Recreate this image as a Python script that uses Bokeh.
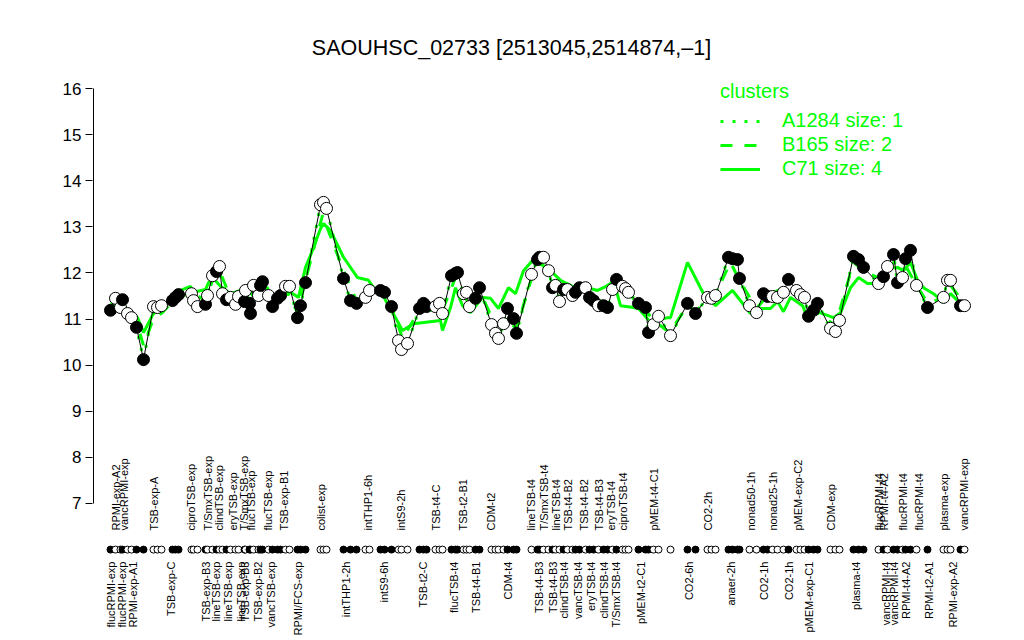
import math
from bokeh.plotting import figure
from bokeh.models import ColumnDataSource, Range1d, FixedTicker, Legend, LegendItem
from bokeh.core.properties import value
from bokeh.embed import file_html
from bokeh.resources import INLINE

FONT = "Liberation Sans"
GREEN = "#00ff00"

title_text = "SAOUHSC_02733 [2513045,2514874,\u20131]"

# sample positions along the x axis (arbitrary position units), expression values, filled marker flag
pos = [17, 22, 27, 29, 34, 38, 43, 50, 60, 64, 68, 79, 82, 85, 98, 100, 104, 112, 114, 119,
       123, 126, 129, 133, 137, 142, 145, 151, 152, 156, 157, 160, 165, 167, 169, 175, 179, 184, 187, 192,
       196, 204, 207, 212, 227, 230, 233, 250, 257, 263, 272, 276, 287, 291, 298, 305, 308, 314, 326, 330,
       333, 342, 346, 349, 358, 362, 364, 370, 373, 376, 382, 386, 398, 402, 405, 410, 414, 420, 423, 438,
       444, 446, 450, 455, 459, 462, 466, 470, 474, 479, 482, 486, 492, 496, 500, 505, 510, 514, 519, 523,
       529, 532, 535, 545, 552, 555, 560, 565, 577, 594, 602, 614, 618, 622, 635, 639, 644, 646, 656, 663,
       670, 674, 679, 684, 690, 695, 703, 707, 711, 715, 720, 724, 737, 742, 746, 760, 765, 770, 785, 790,
       794, 800, 804, 809, 812, 817, 823, 834, 850, 854, 857, 867, 871]
expr = [11.19, 11.45, 11.25, 11.42, 11.12, 11.03, 10.82, 10.12, 11.27, 11.25, 11.29, 11.40, 11.47, 11.53, 11.55, 11.40, 11.27, 11.32, 11.51, 11.94,
        12.03, 12.14, 11.55, 11.42, 11.47, 11.32, 11.49, 11.38, 11.62, 11.34, 11.12, 11.73, 11.51, 11.73, 11.81, 11.51, 11.27, 11.45, 11.51, 11.71,
        11.71, 11.03, 11.29, 11.79, 13.48, 13.53, 13.40, 11.88, 11.40, 11.34, 11.47, 11.62, 11.62, 11.58, 11.27, 10.53, 10.34, 10.47, 11.23, 11.34,
        11.27, 11.27, 11.34, 11.12, 11.94, 11.99, 12.01, 11.55, 11.58, 11.27, 11.45, 11.68, 10.88, 10.69, 10.58, 10.90, 11.23, 11.01, 10.69, 11.97,
        12.29, 12.34, 12.34, 12.05, 11.68, 11.73, 11.38, 11.64, 11.64, 11.51, 11.58, 11.68, 11.68, 11.47, 11.40, 11.29, 11.29, 11.25, 11.64, 11.86,
        11.71, 11.66, 11.58, 11.34, 11.25, 10.71, 10.88, 11.06, 10.64, 11.34, 11.12, 11.47, 11.45, 11.51, 12.34, 12.31, 12.29, 11.88, 11.29, 11.14,
        11.55, 11.49, 11.49, 11.47, 11.58, 11.86, 11.62, 11.53, 11.47, 11.06, 11.19, 11.34, 10.80, 10.73, 10.97, 12.36, 12.29, 12.12, 11.77, 11.92,
        12.14, 12.40, 11.79, 11.90, 12.31, 12.49, 11.73, 11.25, 11.47, 11.84, 11.84, 11.29, 11.29]
filled = [1, 0, 0, 1, 0, 0, 1, 1, 0, 0, 0, 1, 1, 1, 0, 0, 0, 1, 0, 0,
          1, 0, 0, 1, 0, 0, 0, 1, 0, 1, 1, 0, 0, 1, 1, 0, 1, 1, 1, 0,
          0, 1, 1, 1, 0, 0, 0, 1, 1, 1, 0, 0, 1, 1, 1, 0, 0, 0, 1, 1,
          1, 0, 0, 0, 1, 1, 1, 0, 0, 0, 1, 1, 0, 0, 0, 0, 1, 1, 1, 0,
          1, 1, 0, 0, 1, 0, 0, 1, 0, 0, 1, 1, 0, 1, 1, 0, 1, 1, 0, 1,
          0, 0, 0, 1, 1, 1, 0, 0, 0, 1, 1, 0, 0, 0, 1, 1, 1, 1, 0, 0,
          1, 1, 0, 0, 0, 1, 0, 0, 0, 1, 1, 1, 0, 0, 0, 1, 1, 1, 0, 1,
          0, 1, 1, 0, 1, 1, 0, 1, 0, 0, 0, 1, 0]

# cluster C71 (solid) profile
c71_pos = [17, 30, 44, 50, 60, 69, 77, 87, 97, 100, 112, 115, 120, 127, 137, 147, 157, 164, 174, 179,
           187, 197, 205, 212, 217, 227, 230, 237, 250, 264, 275, 280, 287, 295, 297, 309, 320, 347, 349, 357,
           362, 369, 377, 389, 397, 405, 415, 422, 430, 439, 450, 459, 467, 479, 494, 504, 510, 517, 520, 527,
           540, 545, 557, 574, 577, 594, 610, 622, 639, 657, 665, 677, 684, 690, 697, 709, 712, 720, 740, 747,
           757, 765, 774, 784, 794, 804, 810, 817, 824, 830, 840, 850, 857, 867, 870]
c71 = [11.34, 11.29, 11.03, 10.71, 11.12, 11.23, 11.45, 11.62, 11.71, 11.58, 11.64, 11.79, 11.88, 11.71, 11.55, 11.62, 11.55, 11.66, 11.68, 11.19,
       11.45, 11.58, 11.47, 12.12, 12.38, 12.96, 13.07, 12.92, 12.34, 11.90, 11.84, 11.68, 11.62, 11.29, 11.23, 10.75, 10.90, 10.97, 10.75, 11.25,
       11.68, 11.29, 11.14, 11.47, 11.45, 11.23, 11.68, 11.55, 12.05, 12.27, 12.16, 12.01, 11.84, 11.71, 11.68, 11.62, 11.68, 11.77, 11.84, 11.29,
       11.25, 11.23, 10.93, 11.03, 11.03, 12.23, 11.55, 11.29, 11.62, 11.12, 11.23, 11.23, 11.38, 11.16, 11.47, 11.29, 11.14, 11.19, 11.03, 11.14,
       11.68, 11.90, 11.77, 11.77, 12.10, 12.12, 12.05, 12.23, 11.84, 11.68, 11.55, 11.36, 11.55, 11.34, 11.27]

# cluster B165 (dashed) profile
b165_pos = [17, 30, 44, 50, 60, 69, 82, 99, 112, 120, 126, 137, 152, 160, 169, 179, 192, 204, 212, 229,
            250, 263, 276, 290, 298, 309, 326, 349, 362, 376, 386, 402, 410, 423, 438, 448, 459, 474, 486, 500,
            514, 523, 535, 552, 560, 576, 594, 602, 620, 637, 646, 663, 674, 695, 711, 720, 742, 760, 770, 790,
            800, 812, 823, 834, 850, 857, 871]
b165 = [11.29, 11.34, 10.86, 10.43, 11.01, 11.14, 11.45, 11.58, 11.40, 11.90, 12.05, 11.47, 11.45, 11.66, 11.73, 11.34, 11.66, 11.14, 11.84, 13.25,
        12.05, 11.40, 11.58, 11.58, 11.29, 10.58, 11.19, 11.19, 11.90, 11.29, 11.62, 10.86, 11.01, 10.80, 11.88, 12.23, 11.77, 11.62, 11.62, 11.45,
        11.34, 11.77, 11.55, 11.19, 10.97, 10.71, 11.29, 11.19, 11.45, 12.23, 11.84, 11.23, 11.51, 11.73, 11.47, 11.19, 10.86, 12.23, 12.05, 11.84,
        12.23, 12.16, 11.73, 11.36, 11.45, 11.73, 11.34]

# tick labels: upper row and lower row
upper_pos = [22, 30, 60, 97, 114, 125, 139, 150, 157, 174, 190, 227, 274, 307, 342, 369, 397, 437, 450, 462,
             474, 490, 505, 517, 529, 560, 614, 657, 679, 704, 737, 785, 790, 809, 825, 850, 870]
upper_lab = ["RPMI-exp-A2", "vancRPMI-exp", "TSB-exp-A", "ciproTSB-exp", "T/SmxTSB-exp", "clindTSB-exp",
             "eryTSB-exp", "T/SmxTSB-exp", "flucTSB-exp", "flucTSB-exp", "TSB-exp-B1", "colist-exp",
             "intTHP1-6h", "intS9-2h", "TSB-t4-C", "TSB-t2-B1", "CDM-t2", "lineTSB-t4", "T/SmxTSB-t4",
             "lineTSB-t4", "TSB-t4-B2", "TSB-t4-B2", "TSB-t4-B3", "eryTSB-t4", "ciproTSB-t4", "pMEM-t4-C1",
             "CO2-2h", "nonad50-1h", "nonad25-1h", "pMEM-exp-C2", "CDM-exp", "flucRPMI-t4", "RPMI-t4-A2",
             "flucRPMI-t4", "flucRPMI-t4", "plasma-exp", "vancRPMI-exp"]
lower_pos = [17, 28, 39, 77, 112, 122, 134, 147, 151, 164, 177, 204, 252, 290, 329, 360, 382, 414, 445, 459,
             470, 484, 497, 510, 522, 547, 595, 637, 670, 695, 715, 762, 792, 800, 812, 835, 859]
lower_lab = ["flucRPMI-exp", "flucRPMI-exp", "RPMI-exp-A1", "TSB-exp-C", "TSB-exp-B3", "lineTSB-exp",
             "lineTSB-exp", "lineTSB-exp", "TSB-exp-B3", "TSB-exp-B2", "vancTSB-exp", "RPMI/FCS-exp",
             "intTHP1-2h", "intS9-6h", "TSB-t2-C", "flucTSB-t4", "TSB-t4-B1", "CDM-t4", "TSB-t4-B3",
             "TSB-t4-B3", "clindTSB-t4", "vancTSB-t4", "eryTSB-t4", "clindTSB-t4", "T/SmxTSB-t4",
             "pMEM-t2-C1", "CO2-6h", "anaer-2h", "CO2-1h", "CO2-1h", "pMEM-exp-C1", "plasma-t4",
             "vancRPMI-t4", "vancRPMI-t4", "RPMI-t4-A2", "RPMI-t2-A1", "RPMI-exp-A2"]

y_ticks = [7, 8, 9, 10, 11, 12, 13, 14, 15, 16]

# ---------------------------------------------------------------- figure
W, H = 1008, 638
p = figure(width=W, height=H, output_backend="svg", toolbar_location=None,
           x_range=Range1d(-1, 905), y_range=Range1d(4.072, 17.475),
           min_border_left=92, min_border_right=10, min_border_top=20, min_border_bottom=0)
p.xaxis.visible = False
p.grid.visible = False
p.outline_line_color = None
p.background_fill_color = "white"

yax = p.yaxis[0]
yax.ticker = FixedTicker(ticks=y_ticks)
yax.axis_line_color = None
yax.major_tick_out = 7
yax.major_tick_in = 0
yax.minor_tick_line_color = None
yax.major_tick_line_color = "black"
yax.major_label_text_font = FONT
yax.major_label_text_font_size = "17px"
yax.major_label_text_color = "black"
yax.major_label_standoff = 4

# y axis line (only over the tick span)
p.segment(x0=[0], y0=[min(y_ticks)], x1=[0], y1=[max(y_ticks)], line_color="black", line_width=1)

# cluster lines
r_a = p.line(pos, expr, line_color=GREEN, line_width=3, line_dash="3 9")
r_b = p.line(b165_pos, b165, line_color=GREEN, line_width=3, line_dash="12 12")
r_c = p.line(c71_pos, c71, line_color=GREEN, line_width=3)

# gene profile
src = ColumnDataSource(dict(x=pos, y=expr,
                            fc=["black" if f else "white" for f in filled],
                            ry=[6.0] * len(pos)))
p.line("x", "y", source=src, line_color="black", line_width=1)
p.scatter("x", "y", source=src, size=12, fill_color="fc", line_color="black", line_width=1)

# rug of sample markers
p.scatter("x", "ry", source=src, size=7, fill_color="fc", line_color="black", line_width=1)

# tick labels
p.text(x=upper_pos, y=[6.414] * len(upper_pos), text=upper_lab, angle=math.pi / 2,
       text_align="left", text_baseline="middle", text_font=value(FONT),
       text_font_size="11px", text_color="black")
p.text(x=lower_pos, y=[5.74] * len(lower_pos), text=lower_lab, angle=math.pi / 2,
       text_align="right", text_baseline="middle", text_font=value(FONT),
       text_font_size="11px", text_color="black")

# title
p.text(x=[418], y=[16.889], text=[title_text], text_align="center", text_baseline="middle",
       text_font=value(FONT), text_font_size="21.5px", text_color="black")

legend = Legend(items=[LegendItem(label="A1284 size: 1", renderers=[r_a]),
                       LegendItem(label="B165 size: 2", renderers=[r_b]),
                       LegendItem(label="C71 size: 4", renderers=[r_c])],
                title="clusters", location=(628, 458))
legend.background_fill_alpha = 0
legend.border_line_color = None
legend.padding = 0
legend.margin = 0
legend.spacing = 1
legend.glyph_width = 40
legend.glyph_height = 20
legend.label_height = 20
legend.label_standoff = 22
legend.label_text_font = FONT
legend.label_text_font_size = "20px"
legend.label_text_color = GREEN
legend.title_text_font = FONT
legend.title_text_font_size = "20px"
legend.title_text_font_style = "normal"
legend.title_text_color = GREEN
legend.title_standoff = 6
p.add_layout(legend)

open("out.html", "w").write(file_html(p, INLINE))
